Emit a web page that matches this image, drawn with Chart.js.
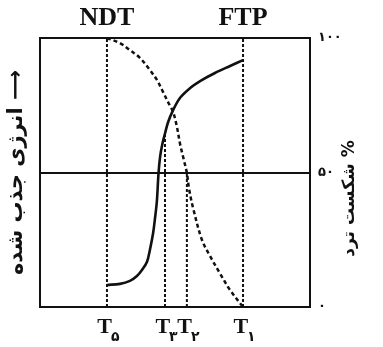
<!DOCTYPE html>
<html>
<head>
<meta charset="utf-8">
<script src="https://cdn.jsdelivr.net/npm/chart.js@4.4.0/dist/chart.umd.min.js"></script>
<style>
  body { margin: 0; background: #fff; }
  canvas { display: block; }
</style>
</head>
<body>
<canvas id="myChart" width="383" height="347"></canvas>
<script>
// energy absorbed curve (solid)
const energyX = [24.8, 29.6, 33.3, 35.9, 37.8, 39.6, 40.7, 41.9, 42.6, 43.3, 43.9, 44.5, 45.3, 46.3, 47.4, 49.3, 51.9, 55.6, 59.3, 64.8, 70.4, 75.2];
const energyY = [8.2, 8.6, 9.7, 11.5, 13.8, 16.7, 21.2, 27.5, 33.0, 39.5, 49.8, 56.0, 60.5, 64.5, 68.6, 73.2, 77.8, 81.4, 84.0, 87.0, 89.6, 91.8];

// brittle fracture % curve (dashed)
const fractureX = [24.8, 29.6, 33.3, 37.0, 40.7, 43.3, 45.6, 47.4, 49.3, 50.7, 51.9, 53.2, 54.4, 55.2, 56.7, 60.0, 63.0, 66.7, 70.4, 75.2];
const fractureY = [100, 98.1, 95.5, 92.6, 88.1, 84.4, 79.9, 76.2, 72.5, 67.0, 60.5, 55.0, 49.8, 44.0, 36.8, 24.9, 18.9, 12.4, 6.3, 0];

// temperature markers
const tPositions = [24.8, 46.3, 54.4, 75.2];
const tSubs = ["۵", "۳", "۲", "۱"];
const guideTops = [100, 64.5, 49.8, 100];

const topPositions = [24.8, 75.2];
const topLabels = ["NDT", "FTP"];

const rightTicks = [0, 50, 100];
const rightTickLabels = ["۰", "۵۰", "۱۰۰"];

const leftTitle = "انرژی جذب شده ⟶";
const rightTitle = "شکست ترد %";

const ink = "#111";

const toPoints = (xs, ys) => xs.map((x, i) => ({ x: x, y: ys[i] }));

const guides = tPositions.map((t, i) => ({
  data: [{ x: t, y: 0 }, { x: t, y: guideTops[i] }],
  borderColor: ink,
  borderWidth: 2,
  borderDash: [3, 2],
  pointRadius: 0,
  showLine: true,
}));

// bottom T labels with small persian subscripts + rotated right title
const extraText = {
  id: "extraText",
  afterDraw(chart) {
    const ctx = chart.ctx;
    const xs = chart.scales.x;
    const area = chart.chartArea;
    ctx.save();
    ctx.fillStyle = ink;
    ctx.textBaseline = "alphabetic";
    tPositions.forEach((t, i) => {
      const px = xs.getPixelForValue(t);
      ctx.font = "bold 22px 'Liberation Serif'";
      const wT = ctx.measureText("T").width;
      ctx.font = "bold 14px 'DejaVu Sans'";
      const wS = ctx.measureText(tSubs[i]).width;
      const x0 = px - (wT + wS) / 2 + 2;
      ctx.font = "bold 22px 'Liberation Serif'";
      ctx.textAlign = "left";
      ctx.fillText("T", x0, area.bottom + 26);
      ctx.font = "bold 14px 'DejaVu Sans'";
      ctx.fillText(tSubs[i], x0 + wT - 1, area.bottom + 34);
    });

    const ys = chart.scales.y2;
    ctx.translate(ys.left + 40, (area.top + area.bottom) / 2 + 26);
    ctx.rotate(-Math.PI / 2);
    ctx.font = "bold 17px 'DejaVu Sans'";
    ctx.textAlign = "center";
    ctx.textBaseline = "middle";
    ctx.fillText(rightTitle, 0, 0);
    ctx.restore();
  },
};

chart = new Chart("myChart", {
  type: "scatter",
  data: {
    datasets: [
      {
        data: toPoints(energyX, energyY),
        borderColor: ink,
        borderWidth: 2.6,
        pointRadius: 0,
        showLine: true,
        tension: 0.35,
      },
      {
        data: toPoints(fractureX, fractureY),
        borderColor: ink,
        borderWidth: 2.5,
        borderDash: [4, 3],
        pointRadius: 0,
        showLine: true,
        tension: 0.35,
      },
      ...guides,
    ],
  },
  options: {
    responsive: false,
    animation: false,
    layout: { padding: 0 },
    plugins: { legend: { display: false }, tooltip: { enabled: false } },
    scales: {
      x: {
        type: "linear",
        position: "bottom",
        min: 0,
        max: 100,
        grid: { display: false, drawTicks: false },
        border: { display: true, color: ink, width: 2 },
        ticks: { display: false },
        afterFit: (s) => { s.height = 40; },
      },
      x2: {
        type: "linear",
        position: "top",
        min: 0,
        max: 100,
        grid: { display: false, drawTicks: false },
        border: { display: true, color: ink, width: 2 },
        afterBuildTicks: (s) => { s.ticks = topPositions.map((v) => ({ value: v })); },
        ticks: {
          padding: 4,
          color: ink,
          maxRotation: 0,
          autoSkip: false,
          font: { family: "'Liberation Serif'", size: 26, weight: "bold" },
          callback: (v, i) => topLabels[i],
        },
        afterFit: (s) => { s.height = 38; },
      },
      y: {
        position: "left",
        min: 0,
        max: 100,
        grid: { display: false, drawTicks: false },
        border: { display: true, color: ink, width: 2 },
        ticks: { display: false },
        title: {
          display: true,
          text: leftTitle,
          color: ink,
          padding: { top: 4, bottom: 0 },
          font: { family: "'DejaVu Sans'", size: 21, weight: "bold" },
        },
        afterFit: (s) => { s.width = 40; },
      },
      y2: {
        position: "right",
        min: 0,
        max: 100,
        grid: { display: true, color: ink, lineWidth: 2, drawTicks: false },
        border: { display: true, color: ink, width: 2 },
        afterBuildTicks: (s) => { s.ticks = rightTicks.map((v) => ({ value: v })); },
        ticks: {
          padding: 8,
          color: ink,
          font: { family: "'DejaVu Sans'", size: 13, weight: "bold" },
          callback: (v, i) => rightTickLabels[i],
        },
        afterFit: (s) => { s.width = 73; },
      },
    },
  },
  plugins: [extraText],
});
</script>
</body>
</html>
